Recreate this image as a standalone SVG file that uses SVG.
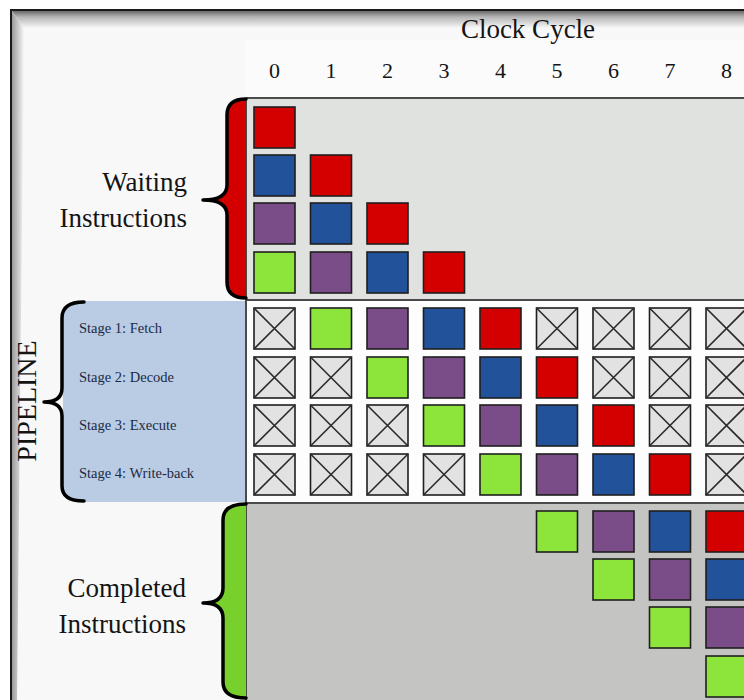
<svg xmlns="http://www.w3.org/2000/svg" width="744" height="700" viewBox="0 0 744 700">
<defs>
<linearGradient id="gTop" x1="0" y1="0" x2="0" y2="1">
<stop offset="0" stop-color="#6a6a6a"/>
<stop offset="0.35" stop-color="#b5b5b5"/>
<stop offset="1" stop-color="#f7f7f7"/>
</linearGradient>
<linearGradient id="gLeft" x1="0" y1="0" x2="1" y2="0">
<stop offset="0" stop-color="#9a9a9a"/>
<stop offset="1" stop-color="#f7f7f7"/>
</linearGradient>
<style>
.serif{font-family:"Liberation Serif","Times New Roman",serif;fill:#141414}
.big{font-size:27px}
.num{font-size:22px;text-anchor:middle}
.stage{font-size:14.5px;fill:#1c2a44}
.c{stroke:#1e1e1e;stroke-width:1.6}
.r{fill:#d40000}
.b{fill:#21529a}
.p{fill:#7a4c88}
.g{fill:#8de53b}
.x{fill:#e2e2e2}
.xl{stroke:#2a2a2a;stroke-width:1.6;fill:none}
.sep{stroke:#4a4a4a;stroke-width:2;fill:none}
.brace{fill:none;stroke:#000;stroke-width:3.5;stroke-linejoin:round;stroke-linecap:round}
</style>
<symbol id="xc" viewBox="0 0 41 41" overflow="visible">
<rect class="c x" x="0" y="0" width="41" height="41"/>
<path class="xl" d="M0,0L41,41M41,0L0,41"/>
</symbol>
</defs>
<rect x="0" y="0" width="744" height="700" fill="#ffffff"/>
<g id="frame">
<rect x="11" y="10" width="745" height="700" fill="#f8f8f8" stroke="#1a1a1a" stroke-width="2"/>
<polygon points="12,11 744,11 744,28 24,28" fill="url(#gTop)"/>
<polygon points="12,11 24,28 17,700 12,700" fill="url(#gLeft)"/>
<rect x="246" y="40" width="498" height="58" fill="#ffffff" opacity="0.4"/>
</g>
<g id="header">
<text class="serif big" x="528" y="38" text-anchor="middle">Clock Cycle</text>
<text class="serif num" x="274.5" y="78">0</text>
<text class="serif num" x="331" y="78">1</text>
<text class="serif num" x="387.5" y="78">2</text>
<text class="serif num" x="444" y="78">3</text>
<text class="serif num" x="500.5" y="78">4</text>
<text class="serif num" x="557" y="78">5</text>
<text class="serif num" x="613.5" y="78">6</text>
<text class="serif num" x="670" y="78">7</text>
<text class="serif num" x="726.5" y="78">8</text>
</g>
<g id="regions">
<rect id="waiting-area" x="246" y="98" width="500" height="202" fill="#dfe2df"/>
<rect id="pipeline-area" x="246" y="300" width="500" height="203" fill="#fdfdfd"/>
<rect id="completed-area" x="246" y="503" width="500" height="200" fill="#c4c5c3"/>
<path id="stage-box" d="M84,301 Q63,301 63,318 L63,486 Q63,502 84,502 L246,502 L246,301 Z" fill="#b9cce4"/>
</g>
<g id="connectors">
<path class="sep" d="M246,98H744M246,300H744M246,503H744M246,98V700"/>
</g>
<g id="waiting-brace">
<path d="M246,99 Q227,99 227,115 L227,185 Q227,200 203,200 Q227,200 227,215 L227,282 Q227,298 246,298 Z" fill="#d40000"/>
<path class="brace" d="M246,99 Q227,99 227,115 L227,185 Q227,200 203,200 Q227,200 227,215 L227,282 Q227,298 246,298"/>
</g>
<g id="completed-brace">
<path d="M246,504 Q223,504 223,520 L223,588 Q223,603 203,603 Q223,603 223,618 L223,682 Q223,698 246,698 Z" fill="#78d02c"/>
<path class="brace" d="M246,504 Q223,504 223,520 L223,588 Q223,603 203,603 Q223,603 223,618 L223,682 Q223,698 246,698"/>
</g>
<g id="pipeline-brace">
<path class="brace" stroke-width="4" d="M84,302 Q62,302 62,318 L62,388 Q62,402 44,402 Q62,402 62,416 L62,486 Q62,501 84,501"/>
</g>
<g id="labels">
<text class="serif big" x="187" y="191" text-anchor="end">Waiting</text>
<text class="serif big" x="187" y="227" text-anchor="end">Instructions</text>
<text class="serif big" x="186" y="597" text-anchor="end">Completed</text>
<text class="serif big" x="186" y="633" text-anchor="end">Instructions</text>
<text class="serif" font-size="28" x="0" y="0" text-anchor="middle" transform="translate(36,401) rotate(-90)">PIPELINE</text>
<text class="serif stage" x="79" y="333">Stage 1: Fetch</text>
<text class="serif stage" x="79" y="382">Stage 2: Decode</text>
<text class="serif stage" x="79" y="430">Stage 3: Execute</text>
<text class="serif stage" x="79" y="478">Stage 4: Write-back</text>
</g>
<g id="waiting-cells">
<rect class="c r" x="254" y="107" width="41" height="41"/>
<rect class="c b" x="254" y="155" width="41" height="41"/>
<rect class="c p" x="254" y="203" width="41" height="41"/>
<rect class="c g" x="254" y="252" width="41" height="41"/>
<rect class="c r" x="310.5" y="155" width="41" height="41"/>
<rect class="c b" x="310.5" y="203" width="41" height="41"/>
<rect class="c p" x="310.5" y="252" width="41" height="41"/>
<rect class="c r" x="367" y="203" width="41" height="41"/>
<rect class="c b" x="367" y="252" width="41" height="41"/>
<rect class="c r" x="423.5" y="252" width="41" height="41"/>
</g>
<g id="stage1-cells">
<use href="#xc" x="254" y="308" width="41" height="41"/>
<rect class="c g" x="310.5" y="308" width="41" height="41"/>
<rect class="c p" x="367" y="308" width="41" height="41"/>
<rect class="c b" x="423.5" y="308" width="41" height="41"/>
<rect class="c r" x="480" y="308" width="41" height="41"/>
<use href="#xc" x="536.5" y="308" width="41" height="41"/>
<use href="#xc" x="593" y="308" width="41" height="41"/>
<use href="#xc" x="649.5" y="308" width="41" height="41"/>
<use href="#xc" x="706" y="308" width="41" height="41"/>
</g>
<g id="stage2-cells">
<use href="#xc" x="254" y="357" width="41" height="41"/>
<use href="#xc" x="310.5" y="357" width="41" height="41"/>
<rect class="c g" x="367" y="357" width="41" height="41"/>
<rect class="c p" x="423.5" y="357" width="41" height="41"/>
<rect class="c b" x="480" y="357" width="41" height="41"/>
<rect class="c r" x="536.5" y="357" width="41" height="41"/>
<use href="#xc" x="593" y="357" width="41" height="41"/>
<use href="#xc" x="649.5" y="357" width="41" height="41"/>
<use href="#xc" x="706" y="357" width="41" height="41"/>
</g>
<g id="stage3-cells">
<use href="#xc" x="254" y="405" width="41" height="41"/>
<use href="#xc" x="310.5" y="405" width="41" height="41"/>
<use href="#xc" x="367" y="405" width="41" height="41"/>
<rect class="c g" x="423.5" y="405" width="41" height="41"/>
<rect class="c p" x="480" y="405" width="41" height="41"/>
<rect class="c b" x="536.5" y="405" width="41" height="41"/>
<rect class="c r" x="593" y="405" width="41" height="41"/>
<use href="#xc" x="649.5" y="405" width="41" height="41"/>
<use href="#xc" x="706" y="405" width="41" height="41"/>
</g>
<g id="stage4-cells">
<use href="#xc" x="254" y="454" width="41" height="41"/>
<use href="#xc" x="310.5" y="454" width="41" height="41"/>
<use href="#xc" x="367" y="454" width="41" height="41"/>
<use href="#xc" x="423.5" y="454" width="41" height="41"/>
<rect class="c g" x="480" y="454" width="41" height="41"/>
<rect class="c p" x="536.5" y="454" width="41" height="41"/>
<rect class="c b" x="593" y="454" width="41" height="41"/>
<rect class="c r" x="649.5" y="454" width="41" height="41"/>
<use href="#xc" x="706" y="454" width="41" height="41"/>
</g>
<g id="completed-cells">
<rect class="c g" x="536.5" y="511" width="41" height="41"/>
<rect class="c p" x="593" y="511" width="41" height="41"/>
<rect class="c g" x="593" y="559" width="41" height="41"/>
<rect class="c b" x="649.5" y="511" width="41" height="41"/>
<rect class="c p" x="649.5" y="559" width="41" height="41"/>
<rect class="c g" x="649.5" y="607" width="41" height="41"/>
<rect class="c r" x="706" y="511" width="41" height="41"/>
<rect class="c b" x="706" y="559" width="41" height="41"/>
<rect class="c p" x="706" y="607" width="41" height="41"/>
<rect class="c g" x="706" y="656" width="41" height="41"/>
</g>
</svg>
